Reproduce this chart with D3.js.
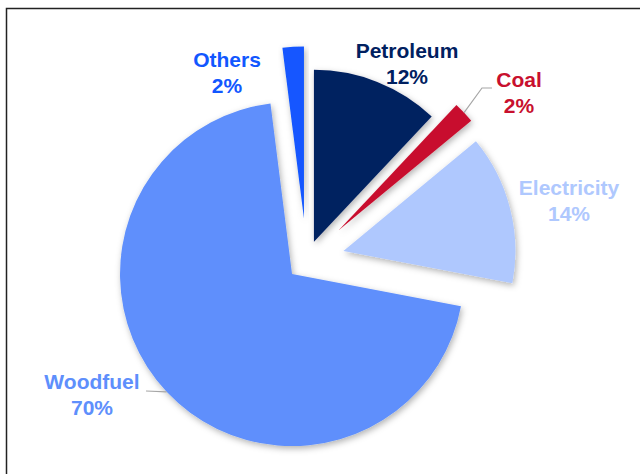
<!DOCTYPE html>
<html>
<head>
<meta charset="utf-8">
<script src="https://cdn.jsdelivr.net/npm/d3@7"></script>
<style>
  html, body { margin: 0; padding: 0; background: #fff; }
  svg { display: block; font-family: "Liberation Sans", Arial, sans-serif; }
</style>
</head>
<body>
<svg id="chart" width="640" height="474"></svg>
<script>
// Energy consumption shares by fuel
const categories = ["Petroleum", "Coal", "Electricity", "Woodfuel", "Others"];
const shares = [12, 2, 14, 70, 2];
const shareLabels = ["12%", "2%", "14%", "70%", "2%"];

// Styling
const colors = ["#002060", "#C8102E", "#AFC8FE", "#5E8FFC", "#1257FF"];
const explodeBy = [20, 44, 38, 20, 42];
const labelAnchors = [[407, 58], [519, 87], [569, 195], [92, 389], [227, 67]];
const leaderSlices = { "Coal": [[482, 88], [492, 88]], "Woodfuel": [[146, 391]] };

const W = 640, H = 474;
const cx = 306.6, cy = 260.4, radius = 172;

const svg = d3.select("#chart");

const defs = svg.append("defs");
const shadow = defs.append("filter").attr("id", "shadow")
  .attr("x", "-20%").attr("y", "-20%").attr("width", "140%").attr("height", "140%");
shadow.append("feDropShadow")
  .attr("dx", 1.5).attr("dy", 2.5).attr("stdDeviation", 3)
  .attr("flood-color", "#000").attr("flood-opacity", 0.3);

// Frame
svg.append("rect")
  .attr("x", 6.5).attr("y", 8.5).attr("width", 700).attr("height", 600)
  .attr("fill", "#fff").attr("stroke", "#222").attr("stroke-width", 1.5);

const table = categories.map((c, i) => ({ name: c, value: shares[i], label: shareLabels[i], i }));

const pie = d3.pie().sort(null).value(d => d.value).startAngle(0).endAngle(2 * Math.PI);
const arcs = pie(table);
const arc = d3.arc().innerRadius(0).outerRadius(radius);

const g = svg.append("g").attr("transform", `translate(${cx},${cy})`);

function dirOf(a) {
  const mid = (a.startAngle + a.endAngle) / 2;
  return [Math.sin(mid), -Math.cos(mid)];
}

g.selectAll("path.slice")
  .data(arcs)
  .join("path")
  .attr("class", "slice")
  .attr("d", arc)
  .attr("fill", d => colors[d.data.i])
  .attr("filter", "url(#shadow)")
  .attr("transform", d => {
    const [dx, dy] = dirOf(d);
    const o = explodeBy[d.data.i];
    return `translate(${dx * o},${dy * o})`;
  });

// Leader lines from slice edges to their labels
arcs.forEach(d => {
  const pts = leaderSlices[d.data.name];
  if (!pts) return;
  const [dx, dy] = dirOf(d);
  const r = radius + explodeBy[d.data.i];
  const start = [cx + dx * r, cy + dy * r];
  svg.append("path")
    .attr("d", d3.line()([start, ...pts]))
    .attr("fill", "none")
    .attr("stroke", "#a6a6a6")
    .attr("stroke-width", 1.2);
});

// Labels
const labels = svg.append("g").attr("font-weight", "bold").attr("font-size", 21)
  .attr("text-anchor", "middle");
table.forEach(d => {
  const [x, y] = labelAnchors[d.i];
  const t = labels.append("text").attr("fill", colors[d.i]);
  t.append("tspan").attr("x", x).attr("y", y).text(d.name);
  t.append("tspan").attr("x", x).attr("y", y + 26).text(d.label);
});
</script>
</body>
</html>
